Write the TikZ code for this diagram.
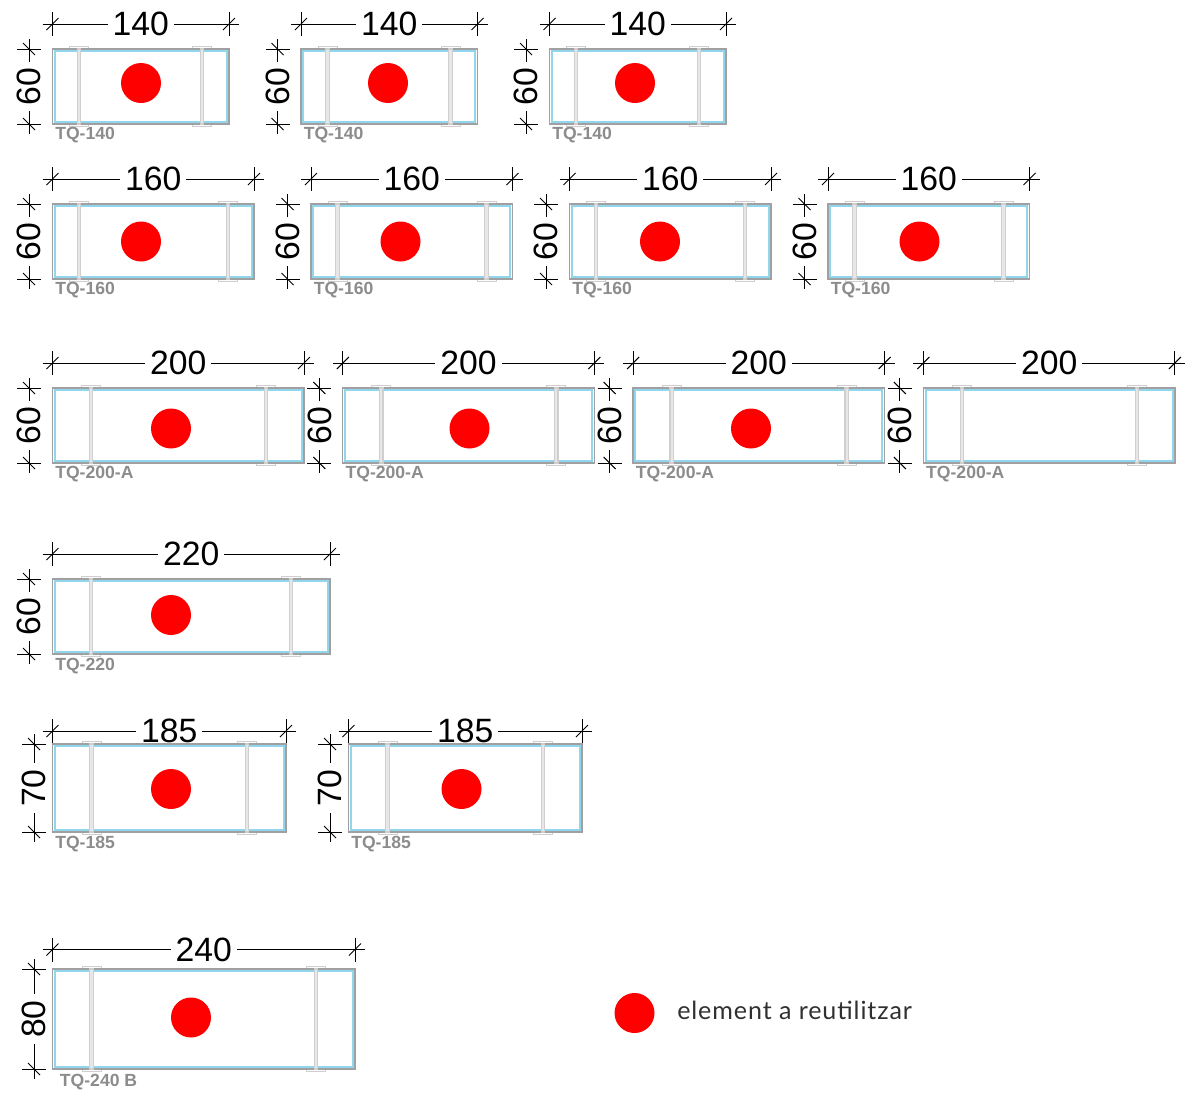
\documentclass[tikz,border=0pt]{standalone}
\usepackage{fontspec}
\setmainfont{Liberation Sans}
\newfontfamily\legendfont[LetterSpace=3.6]{Lato}
\newcount\nodeno
\newcommand{\nextno}{\global\advance\nodeno by 1 }
\definecolor{frameg}{HTML}{A0A0A0}
\definecolor{glassb}{HTML}{92D6EE}
\definecolor{barg}{HTML}{CFCFCF}
\definecolor{tagg}{HTML}{8C8C8C}
\definecolor{legendc}{HTML}{303030}
\tikzset{
  dimline/.style={line width=0.75pt,black},
  frameline/.style={draw=frameg,line width=1.0pt},
  glassline/.style={draw=glassb,line width=1.4pt},
  barline/.style={draw=barg,line width=0.6pt,fill=white!92!barg},
  dimtext/.style={font=\fontsize{25.3}{25.3}\selectfont,inner sep=0pt,text depth=0pt},
  gapbox/.style={fill=white,inner xsep=3.8pt,inner ysep=0pt},
  tagtext/.style={font=\fontsize{13.2}{13.2}\bfseries\selectfont,text=tagg,inner sep=0pt,anchor=west},
  spotdot/.style={circle,fill=red,draw=none,minimum size=30pt,inner sep=0pt},
}
% #1 x0, #2 x1, #3 y, #4 text
\newcommand{\hdim}[4]{%
  \nextno
  \draw[dimline] (#1-10,#3) -- (#2+10,#3);
  \draw[dimline] (#1,#3-12) -- (#1,#3+12);
  \draw[dimline] (#2,#3-12) -- (#2,#3+12);
  \draw[dimline] (#1-6,#3+6) -- (#1+6,#3-6);
  \draw[dimline] (#2-6,#3+6) -- (#2+6,#3-6);
  \node[dimtext,gapbox] (hd\the\nodeno) at ({(#1+#2)/2},#3) {\phantom{#4}};
}
\newcommand{\hlabel}[4]{%
  \nextno
  \node[dimtext] (hl\the\nodeno) at ({(#1+#2)/2},#3) {#4};
}
% #1 x, #2 y0, #3 y1, #4 text
\newcommand{\vdim}[4]{%
  \nextno
  \draw[dimline] (#1,#2-10) -- (#1,#3+10);
  \draw[dimline] (#1-12,#2) -- (#1+12,#2);
  \draw[dimline] (#1-12,#3) -- (#1+12,#3);
  \draw[dimline] (#1-6,#2-6) -- (#1+6,#2+6);
  \draw[dimline] (#1-6,#3-6) -- (#1+6,#3+6);
  \node[dimtext,fill=white,rotate=90,inner xsep=4.5pt] (vl\the\nodeno) at (#1,{(#2+#3)/2}) {#4};
}
% #1 x0 #2 x1 #3 y0 #4 y1 #5 bar1 #6 bar2 #7 tag #8 tag y offset
\newcommand{\panel}[8]{%
  \nextno
  \foreach \bx in {#5,#6}{
    \draw[barline] (\bx-9.5,#3-2.6) rectangle (\bx+9.5,#3);
    \draw[barline] (\bx-9.5,#4) rectangle (\bx+9.5,#4+2.6);
  }
  \draw[frameline] (#1,#3) rectangle (#2,#4);
  \draw[glassline] (#1+2.2,#3+2.2) rectangle (#2-2.2,#4-2.2);
  \foreach \bx in {#5,#6}{
    \draw[draw=barg,line width=0.9pt,fill=white!50!barg] (\bx-1.7,#3) rectangle (\bx+1.7,#4);
  }
  \node[tagtext] (tag\the\nodeno) at (#1+2.5,#4+#8) {#7};
}
\newcommand{\spot}[2]{%
  \nextno
  \node[spotdot] (spot\the\nodeno) at (#1,#2) {};
}
\begin{document}
\begin{tikzpicture}[x=0.75pt,y=-0.75pt]
\useasboundingbox (0,0) rectangle (1189,1093);
% row 1
\foreach \dx in {0,248.5,497}{
  \begin{scope}[shift={(\dx,0)}]
  \hdim{52.5}{229}{24}{140}
  \vdim{29}{49}{124}{60}
  \panel{52.5}{229}{49}{124}{79}{202}{TQ-140}{11.5}
  \hlabel{52.5}{229}{24}{140}
  \end{scope}
}
\spot{141}{83}\spot{388}{83}\spot{635}{83}
% row 2
\foreach \dx in {0,258.5,517,775.5}{
  \begin{scope}[shift={(\dx,0)}]
  \hdim{52.5}{254}{179}{160}
  \vdim{29}{204}{279}{60}
  \panel{52.5}{254}{204}{279}{79}{228}{TQ-160}{11}
  \hlabel{52.5}{254}{179}{160}
  \end{scope}
}
\spot{141}{241.5}\spot{400.5}{241.5}\spot{660}{241.5}\spot{919.5}{241.5}
% row 3
\foreach \dx in {0,290.3,580.6,870.9}{
  \begin{scope}[shift={(\dx,0)}]
  \hdim{52.5}{304}{363}{200}
  \vdim{29}{388}{463}{60}
  \panel{52.5}{304}{388}{463}{91}{266}{TQ-200-A}{11.5}
  \hlabel{52.5}{304}{363}{200}
  \end{scope}
}
\spot{171}{428.5}\spot{469.5}{428.5}\spot{751}{428.5}
% row 4
\hdim{52.5}{330}{554}{220}
\vdim{29}{579}{654}{60}
\panel{52.5}{330}{579}{654}{91}{291}{TQ-220}{12}
\hlabel{52.5}{330}{554}{220}
\spot{171}{615}
% row 5
\foreach \dx in {0,296}{
  \begin{scope}[shift={(\dx,0)}]
  \hdim{52.5}{286}{731}{185}
  \vdim{34}{744}{832}{70}
  \panel{52.5}{286}{744}{832}{91.5}{247}{TQ-185}{12.5}
  \hlabel{52.5}{286}{731}{185}
  \end{scope}
}
\spot{171}{789}\spot{461.5}{789}
% row 6
\hdim{52.5}{355}{949.5}{240}
\vdim{34}{969}{1069}{80}
\panel{52.5}{355}{969}{1069}{91.5}{316}{\hspace{3.5pt}TQ-240 B}{13}
\hlabel{52.5}{355}{949.5}{240}
\spot{191}{1017.5}
% legend
\node[spotdot] (legdot) at (634.5,1013) {};
\node[anchor=west,inner sep=0pt,text=legendc,font=\legendfont\fontsize{18.8}{18.8}\selectfont] (legtext) at (677,1010.5) {element a reutilitzar};
\end{tikzpicture}
\end{document}
